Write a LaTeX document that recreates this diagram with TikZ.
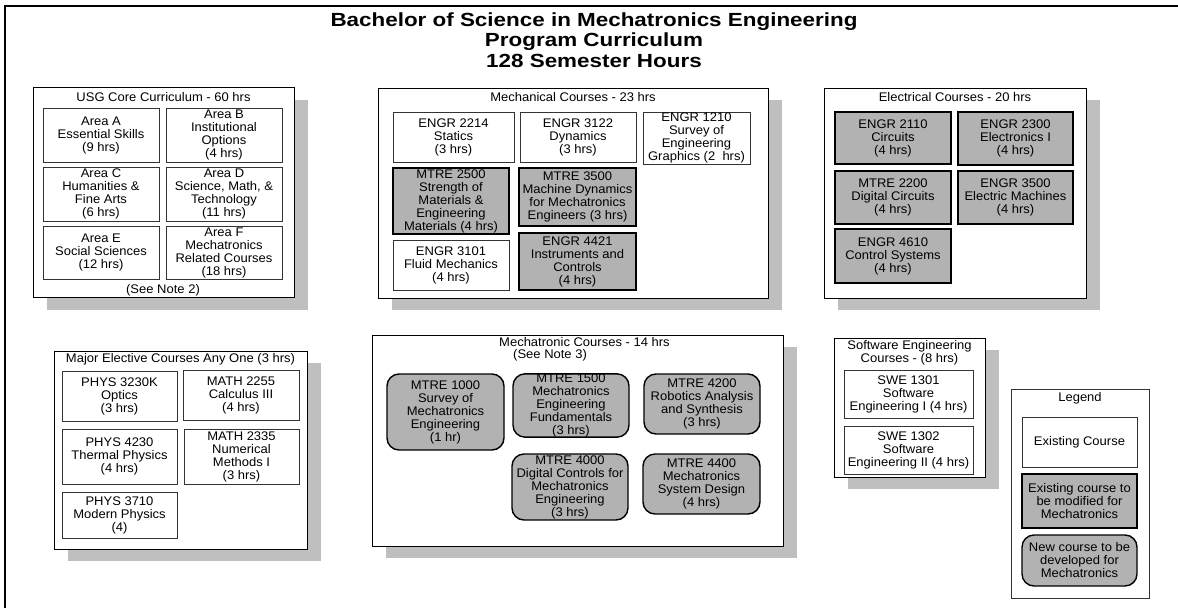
\documentclass[tikz,border=0pt]{standalone}
\usepackage{fontspec}
\setmainfont{Liberation Sans}[FakeStretch=1.04]
\newfontfamily\titlefont{Liberation Sans}[FakeStretch=1.18]
\usetikzlibrary{shadows}
\definecolor{shadowgray}{gray}{0.75}
\definecolor{boxgray}{gray}{0.70}
\begin{document}
\begin{tikzpicture}[x=1pt,y=-1pt,
  every node/.style={font=\fontsize{12.5}{13}\selectfont, align=center, inner sep=0pt},
  group/.style={draw=black, line width=0.9pt, fill=white,
     drop shadow={shadow xshift=14pt, shadow yshift=-12pt, fill=shadowgray, opacity=1}},
  legendbox/.style={draw=black!80, line width=0.9pt, fill=white},
  plainbox/.style={draw=black!80, line width=0.9pt, fill=white},
  modbox/.style={draw=black, line width=1.8pt, fill=boxgray},
  newbox/.style={draw=black, line width=1.4pt, fill=boxgray, rounded corners=12pt},
  gtitle/.style={font=\fontsize{12.5}{13}\selectfont},
  maintitle/.style={font=\titlefont\bfseries\fontsize{19}{19.5}\selectfont}
]
\useasboundingbox (0,0) rectangle (1178,608);
\fill[white] (0,0) rectangle (1178,608);
\draw[line width=1.2pt] (5,608) -- (5,6) -- (1178,6);

% main title
\node[maintitle] (t1) at (594,22) {Bachelor of Science in Mechatronics Engineering};
\node[maintitle] (t2) at (594,41.5) {Program Curriculum};
\node[maintitle] (t3) at (594,61) {128 Semester Hours};

% USG core
\node[group, minimum width=261pt, minimum height=210pt] (usg) at (163.5,192.5) {};
\node[gtitle] (usgt) at (163.5,97) {USG Core Curriculum - 60 hrs};
\node[plainbox, minimum width=116pt, minimum height=54pt] (ara) at (101,135) {Area A\\Essential Skills\\(9 hrs)};
\node[plainbox, minimum width=116pt, minimum height=54pt] (arb) at (224,135) {Area B\\Institutional\\Options\\(4 hrs)};
\node[plainbox, minimum width=116pt, minimum height=54pt] (arc) at (101,194) {Area C\\Humanities \&\\Fine Arts\\(6 hrs)};
\node[plainbox, minimum width=116pt, minimum height=54pt] (ard) at (224,194) {Area D\\Science, Math, \&\\Technology\\(11 hrs)};
\node[plainbox, minimum width=116pt, minimum height=53pt] (are) at (101,252.5) {Area E\\Social Sciences\\(12 hrs)};
\node[plainbox, minimum width=116pt, minimum height=53pt] (arf) at (224,252.5) {Area F\\Mechatronics\\Related Courses\\(18 hrs)};
\node (note2) at (163,290) {(See Note 2)};

% Mechanical
\node[group, minimum width=390pt, minimum height=210pt] (mech) at (573,193) {};
\node[gtitle] (mecht) at (573,97) {Mechanical Courses - 23 hrs};
\node[plainbox, minimum width=121pt, minimum height=50pt] (e2214) at (453.5,137) {ENGR 2214\\Statics\\(3 hrs)};
\node[plainbox, minimum width=116pt, minimum height=50pt] (e3122) at (578,137) {ENGR 3122\\Dynamics\\(3 hrs)};
\node[plainbox, minimum width=107pt, minimum height=52pt] (e1210) at (696.5,138) {ENGR 1210\\Survey of\\Engineering\\Graphics (2\ \ hrs)};
\node[modbox, minimum width=116pt, minimum height=66pt] (m2500) at (451,201) {MTRE 2500\\Strength of\\Materials \&\\Engineering\\Materials (4 hrs)};
\node[modbox, minimum width=117pt, minimum height=58pt] (m3500) at (577.5,197) {MTRE 3500\\Machine Dynamics\\for Mechatronics\\Engineers (3 hrs)};
\node[plainbox, minimum width=116pt, minimum height=50pt] (e3101) at (451,265) {ENGR 3101\\Fluid Mechanics\\(4 hrs)};
\node[modbox, minimum width=117pt, minimum height=57pt] (e4421) at (577.5,261.5) {ENGR 4421\\Instruments and\\Controls\\(4 hrs)};

% Electrical
\node[group, minimum width=262pt, minimum height=210pt] (elec) at (955,193) {};
\node[gtitle] (elect) at (955,97) {Electrical Courses - 20 hrs};
\node[modbox, minimum width=116pt, minimum height=52pt] (e2110) at (893,138) {ENGR 2110\\Circuits\\(4 hrs)};
\node[modbox, minimum width=115pt, minimum height=53pt] (e2300) at (1015.5,138.5) {ENGR 2300\\Electronics I\\(4 hrs)};
\node[modbox, minimum width=116pt, minimum height=53pt] (m2200) at (893,197.5) {MTRE 2200\\Digital Circuits\\(4 hrs)};
\node[modbox, minimum width=115pt, minimum height=53pt] (e3500) at (1015.5,197.5) {ENGR 3500\\Electric Machines\\(4 hrs)};
\node[modbox, minimum width=116pt, minimum height=54pt] (e4610) at (893,256) {ENGR 4610\\Control Systems\\(4 hrs)};

% Major electives
\node[group, minimum width=253pt, minimum height=198pt] (maj) at (180.5,450) {};
\node[gtitle] (majt) at (180.5,359) {Major Elective Courses Any One (3 hrs)};
\node[plainbox, minimum width=115pt, minimum height=50pt] (p3230) at (119.5,396) {PHYS 3230K\\Optics\\(3 hrs)};
\node[plainbox, minimum width=116pt, minimum height=50pt] (m2255) at (241,395) {MATH 2255\\Calculus III\\(4 hrs)};
\node[plainbox, minimum width=115pt, minimum height=55pt] (p4230) at (119.5,456.5) {PHYS 4230\\Thermal Physics\\(4 hrs)};
\node[plainbox, minimum width=115pt, minimum height=55pt] (m2335) at (241.5,456.5) {MATH 2335\\Numerical\\Methods I\\(3 hrs)};
\node[plainbox, minimum width=115pt, minimum height=46pt] (p3710) at (119.5,515) {PHYS 3710\\Modern Physics\\(4)};

% Mechatronic
\node[group, minimum width=411pt, minimum height=211pt] (mtr) at (577.5,440.5) {};
\node[font=\fontsize{12.5}{12}\selectfont, align=left, anchor=north west] (mtrt) at (499,337.5)
  {Mechatronic Courses - 14 hrs\\\hspace*{14pt}(See Note 3)};
\node[newbox, minimum width=117pt, minimum height=76pt] (m1000) at (445.5,412) {MTRE 1000\\Survey of\\Mechatronics\\Engineering\\(1 hr)};
\node[newbox, minimum width=116pt, minimum height=63pt] (m1500) at (571,405.5) {MTRE 1500\\Mechatronics\\Engineering\\Fundamentals\\(3 hrs)};
\node[newbox, minimum width=116pt, minimum height=60pt] (m4200) at (702,404) {MTRE 4200\\Robotics Analysis\\and Synthesis\\(3 hrs)};
\node[newbox, minimum width=116pt, minimum height=66pt] (m4000) at (570,487) {MTRE 4000\\Digital Controls for\\Mechatronics\\Engineering\\(3 hrs)};
\node[newbox, minimum width=117pt, minimum height=60pt] (m4400) at (701.5,484) {MTRE 4400\\Mechatronics\\System Design\\(4 hrs)};

% Software
\node[group, minimum width=151pt, minimum height=139pt] (swe) at (909.5,407.5) {};
\node[gtitle] (swet) at (909.5,353) {Software Engineering\\Courses - (8 hrs)};
\node[plainbox, minimum width=129pt, minimum height=48pt] (s1301) at (908.5,394) {SWE 1301\\Software\\Engineering I (4 hrs)};
\node[plainbox, minimum width=129pt, minimum height=48pt] (s1302) at (908.5,450) {SWE 1302\\Software\\Engineering II (4 hrs)};

% Legend
\node[legendbox, minimum width=138pt, minimum height=209pt] (leg) at (1080,493.5) {};
\node[gtitle] (legt) at (1080,398) {Legend};
\node[plainbox, minimum width=115pt, minimum height=50pt] (lex) at (1079.5,442) {Existing Course};
\node[modbox, minimum width=115pt, minimum height=54pt] (lmod) at (1079.5,501) {Existing course to\\be modified for\\Mechatronics};
\node[newbox, minimum width=115pt, minimum height=51pt] (lnew) at (1079.5,560.5) {New course to be\\developed for\\Mechatronics};
\end{tikzpicture}
\end{document}
